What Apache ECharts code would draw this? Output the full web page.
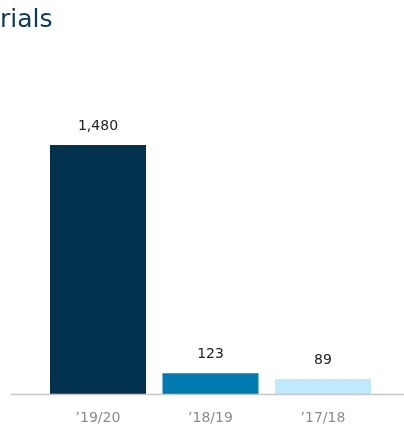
<!DOCTYPE html>
<html><head><meta charset="utf-8">
<script src="https://cdn.jsdelivr.net/npm/echarts@6/dist/echarts.min.js"></script>
<style>html,body{margin:0;padding:0;background:#fff}#c{width:404px;height:427px}</style>
</head><body><div id="c"></div>
<script>
const titleText = 'rials';
const categories = ['\u201919/20', '\u201918/19', '\u201917/18'];
const values = [1480, 123, 89];
const barColors = ['#03324f', '#007bb1', '#bfe9fc'];

const chart = echarts.init(document.getElementById('c'), null, {renderer: 'canvas'});
chart.setOption({
  animation: false,
  title: {text: titleText, left: -5, top: 3, textStyle: {fontFamily: 'DejaVu Sans', fontSize: 25, fontWeight: 'normal', color: '#0c3a5c'}},
  grid: {left: 41.75, right: 24.75, top: 145, bottom: 33},
  xAxis: {
    type: 'category', data: categories,
    axisLine: {show: false}, axisTick: {show: false},
    axisLabel: {color: '#8c8c8c', fontFamily: 'DejaVu Sans', fontSize: 14, margin: 17}
  },
  yAxis: {type: 'value', min: 0, max: 1480, show: false, splitLine: {show: false}},
  graphic: [{type: 'line', shape: {x1: 11, y1: 394.5, x2: 404, y2: 394.5}, style: {stroke: '#c8c8c8', lineWidth: 1.5}, z: 10}],
  series: [{
    type: 'bar', barWidth: 96,
    data: values.map((v, i) => ({value: v, itemStyle: {color: barColors[i]}})),
    label: {show: true, position: 'top', distance: 12, color: '#222', fontFamily: 'DejaVu Sans', fontSize: 14,
      formatter: p => p.value.toLocaleString('en-US')}
  }]
});
</script></body></html>
